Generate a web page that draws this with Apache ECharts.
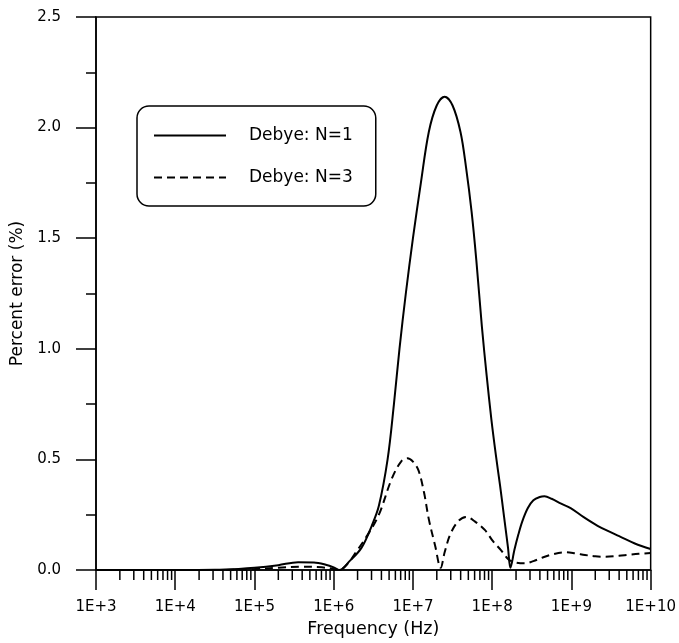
<!DOCTYPE html>
<html>
<head>
<meta charset="utf-8">
<script src="https://cdn.jsdelivr.net/npm/echarts@6/dist/echarts.min.js"></script>
<style>
  html, body { margin: 0; padding: 0; background: #fff; }
  #chart { width: 679px; height: 643px; }
</style>
</head>
<body>
<div id="chart"></div>
<script>
// Frequency is given as its decade exponent: log10(f / Hz)
const n1LogFreq = [3.0, 4.0, 4.5, 4.8, 5.0, 5.3, 5.55, 5.75, 5.9, 6.0, 6.07, 6.2, 6.35, 6.48, 6.57, 6.68, 6.76, 6.83, 6.91, 7.0, 7.1, 7.2, 7.3, 7.4, 7.5, 7.6, 7.67, 7.74, 7.8, 7.87, 7.93, 7.99, 8.05, 8.1, 8.15, 8.2, 8.23, 8.28, 8.33, 8.38, 8.45, 8.52, 8.6, 8.66, 8.75, 8.87, 8.99, 9.15, 9.33, 9.5, 9.62, 9.8, 10.0];
const n1Error   = [0, 0, 0.001, 0.005, 0.01, 0.022, 0.035, 0.034, 0.024, 0.012, 0.0, 0.04, 0.10, 0.2, 0.29, 0.5, 0.75, 1.0, 1.25, 1.5, 1.75, 1.98, 2.10, 2.14, 2.10, 1.98, 1.82, 1.62, 1.40, 1.10, 0.88, 0.68, 0.51, 0.38, 0.24, 0.1, 0.01, 0.09, 0.16, 0.22, 0.28, 0.315, 0.33, 0.333, 0.322, 0.30, 0.28, 0.24, 0.20, 0.17, 0.15, 0.12, 0.095];

const n3LogFreq = [3.0, 4.5, 5.0, 5.3, 5.6, 5.85, 6.0, 6.07, 6.18, 6.28, 6.43, 6.57, 6.73, 6.85, 6.93, 7.0, 7.07, 7.14, 7.2, 7.28, 7.35, 7.4, 7.47, 7.57, 7.67, 7.78, 7.91, 8.01, 8.11, 8.2, 8.28, 8.41, 8.52, 8.62, 8.75, 8.92, 9.05, 9.17, 9.3, 9.42, 9.6, 9.71, 9.85, 10.0];
const n3Error   = [0, 0, 0.004, 0.01, 0.015, 0.012, 0.005, 0.0, 0.03, 0.08, 0.16, 0.25, 0.41, 0.49, 0.505, 0.49, 0.45, 0.35, 0.23, 0.11, 0.01, 0.08, 0.16, 0.22, 0.24, 0.22, 0.18, 0.13, 0.09, 0.05, 0.035, 0.03, 0.04, 0.054, 0.07, 0.08, 0.075, 0.068, 0.062, 0.06, 0.064, 0.068, 0.073, 0.077];

const seriesNames = ['Debye: N=1', 'Debye: N=3'];
const xDecades = [3, 4, 5, 6, 7, 8, 9, 10];
const yTicks = [0, 0.5, 1.0, 1.5, 2.0, 2.5];

// Minor log ticks at 2..9 x 10^n inside each decade
const minorTickPos = [];
for (let d = xDecades[0]; d < xDecades[xDecades.length - 1]; d++) {
  for (let k = 2; k <= 9; k++) minorTickPos.push([d + Math.log10(k)]);
}

const FONT = 'DejaVu Sans';
const zip = (xs, ys) => xs.map((x, i) => [x, ys[i]]);

const chart = echarts.init(document.getElementById('chart'), null, { renderer: 'canvas' });
chart.setOption({
  backgroundColor: '#fff',
  animation: false,
  grid: {
    left: 96, right: 25, top: 17, bottom: 70,
    show: true, borderColor: '#000', borderWidth: 1.5, backgroundColor: 'transparent'
  },
  legend: {
    data: seriesNames,
    orient: 'vertical',
    left: 137, top: 106,
    borderColor: '#000', borderWidth: 1.5, borderRadius: 12,
    padding: [21, 23, 20, 16],
    itemWidth: 72, itemHeight: 20, itemGap: 25,
    itemStyle: { opacity: 0, borderWidth: 0 },
    textStyle: { fontFamily: FONT, fontSize: 17, color: '#000', padding: [0, 0, 0, 18] }
  },
  xAxis: {
    type: 'value',
    min: xDecades[0], max: xDecades[xDecades.length - 1], interval: 1,
    name: 'Frequency (Hz)', nameLocation: 'middle', nameGap: 50,
    nameTextStyle: { fontFamily: FONT, fontSize: 17.5, color: '#000' },
    axisLine: { lineStyle: { color: '#000', width: 1.5 } },
    axisTick: { inside: false, length: 20, lineStyle: { color: '#000', width: 1.5 } },
    axisLabel: {
      margin: 30, fontFamily: FONT, fontSize: 15, color: '#000',
      formatter: v => '1E+' + Math.round(v)
    },
    splitLine: { show: false }
  },
  yAxis: {
    type: 'value',
    min: yTicks[0], max: yTicks[yTicks.length - 1], interval: 0.5,
    name: 'Percent error (%)', nameLocation: 'middle', nameGap: 66,
    nameTextStyle: { fontFamily: FONT, fontSize: 17, color: '#000' },
    axisLine: { lineStyle: { color: '#000', width: 1.5 } },
    axisTick: { inside: false, length: 20, lineStyle: { color: '#000', width: 1.5 } },
    minorTick: { show: true, splitNumber: 2, length: 10, lineStyle: { color: '#000', width: 1.5 } },
    axisLabel: {
      margin: 35, fontFamily: FONT, fontSize: 15, color: '#000',
      formatter: v => v.toFixed(1)
    },
    splitLine: { show: false }
  },
  series: [
    {
      name: seriesNames[0],
      type: 'line',
      data: zip(n1LogFreq, n1Error),
      symbol: 'none',
      smooth: 0.35,
      lineStyle: { color: '#000', width: 2 },
      itemStyle: { color: '#000' },
      z: 3
    },
    {
      name: seriesNames[1],
      type: 'line',
      data: zip(n3LogFreq, n3Error),
      symbol: 'none',
      smooth: 0.35,
      lineStyle: { color: '#000', width: 2, type: [8, 5] },
      itemStyle: { color: '#000' },
      z: 3
    },
    {
      // minor logarithmic ticks hanging below the frequency axis
      type: 'custom',
      silent: true,
      clip: false,
      data: minorTickPos,
      encode: { x: 0 },
      renderItem: (params, api) => {
        const p = api.coord([api.value(0), 0]);
        return {
          type: 'line',
          shape: { x1: p[0], y1: p[1], x2: p[0], y2: p[1] + 10 },
          style: { stroke: '#000', lineWidth: 1.5 }
        };
      }
    }
  ]
});
</script>
</body>
</html>
